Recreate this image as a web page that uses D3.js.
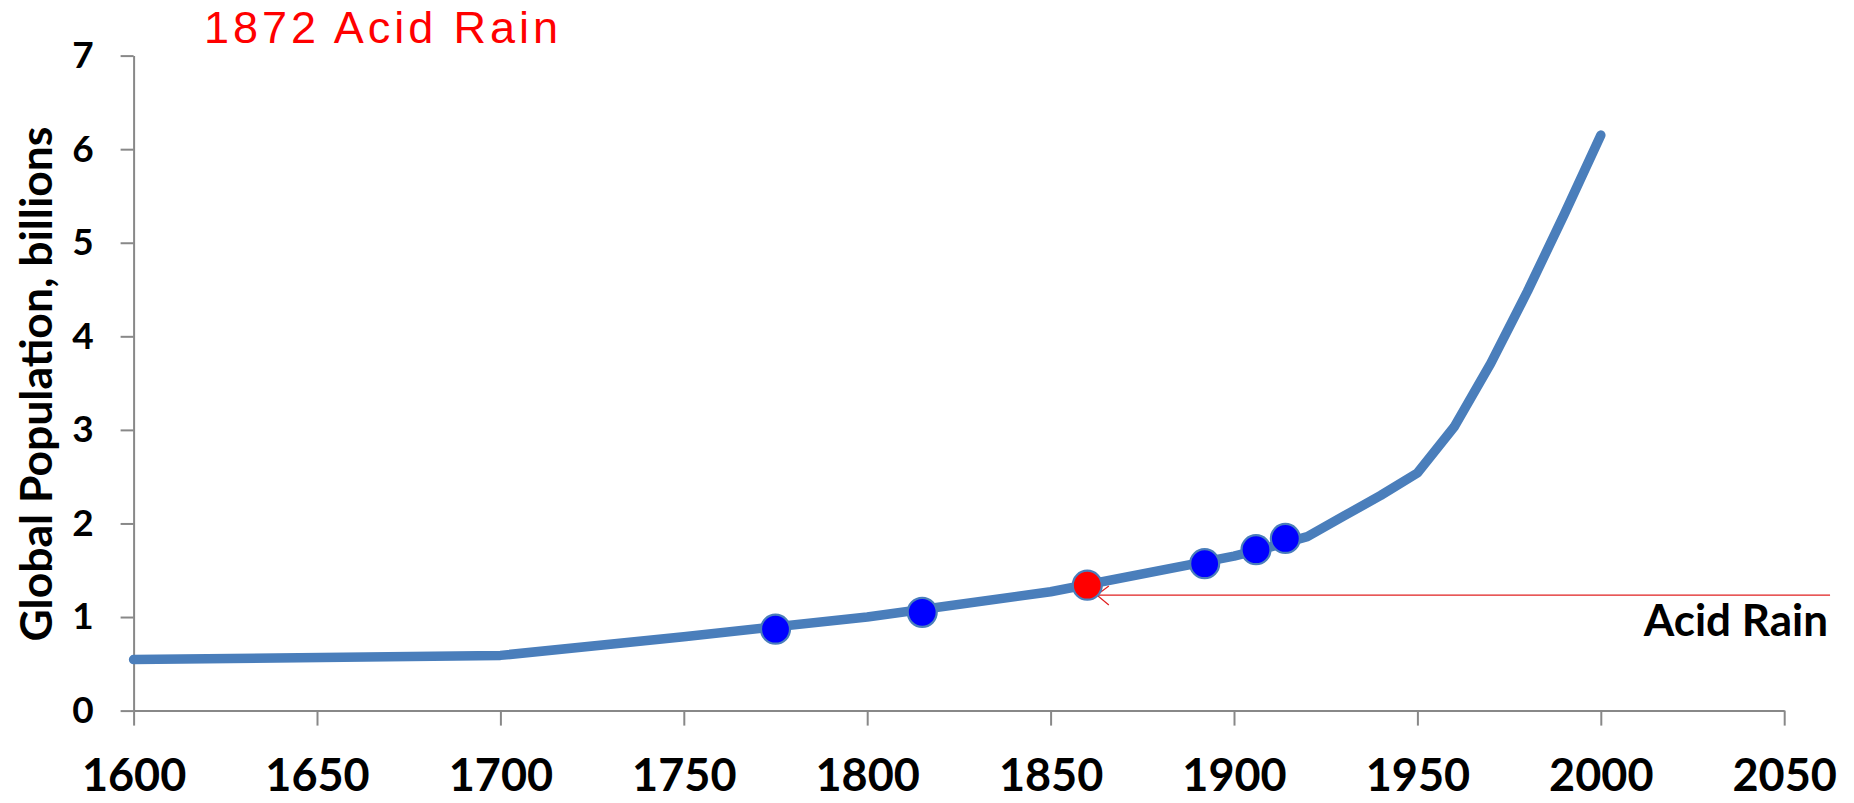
<!DOCTYPE html>
<html>
<head>
<meta charset="utf-8">
<script src="https://cdn.jsdelivr.net/npm/d3@7"></script>
<style>
  html, body { margin: 0; padding: 0; background: #ffffff; }
  svg { display: block; }
</style>
</head>
<body>
<svg id="chart" width="1854" height="803"></svg>
<script>
// World population estimates, billions
const years = [1600, 1700, 1750, 1800, 1850, 1900, 1910, 1920, 1930, 1940, 1950, 1960, 1970, 1980, 1990, 2000];
const population = [0.545, 0.59, 0.79, 1.0, 1.27, 1.65, 1.75, 1.86, 2.08, 2.3, 2.54, 3.03, 3.71, 4.48, 5.3, 6.15];

// Highlighted events along the curve
const eventYears = [1775, 1815, 1860, 1892, 1906, 1914];
const eventValues = [0.87, 1.05, 1.34, 1.57, 1.72, 1.84];
const eventColors = ["#0000ff", "#0000ff", "#ff0000", "#0000ff", "#0000ff", "#0000ff"];

// Callout: arrow runs from the label back to the highlighted point
const calloutText = "Acid Rain";
const calloutLevel = 1.235;
const calloutFromYear = 2062.5;
const calloutToYear = 1862.6;

const titleText = "1872 Acid Rain";
const yTitle = "Global Population, billions";
const xTicks = [1600, 1650, 1700, 1750, 1800, 1850, 1900, 1950, 2000, 2050];
const yTicks = [0, 1, 2, 3, 4, 5, 6, 7];

const svg = d3.select("#chart");
const axisGray = "#888888";
const lineBlue = "#4a7ebb";
const labelFont = "Lato, 'Open Sans', sans-serif";

const x = d3.scaleLinear().domain([1600, 2050]).range([133.6, 1784.2]);
const y = d3.scaleLinear().domain([0, 7]).range([710.6, 55.6]);

// Y axis
const gy = svg.append("g")
  .attr("transform", `translate(${x(1600)},0)`)
  .call(d3.axisLeft(y).tickValues(yTicks).tickFormat(d3.format("d"))
    .tickSize(13).tickSizeOuter(0).tickPadding(27));
gy.select(".domain").attr("stroke", axisGray).attr("stroke-width", 2);
gy.selectAll(".tick line").attr("stroke", axisGray).attr("stroke-width", 2);
gy.selectAll(".tick text")
  .attr("font-family", labelFont)
  .attr("font-weight", 700)
  .attr("font-size", 37)
  .attr("fill", "#000");

// X axis
const gx = svg.append("g")
  .attr("transform", `translate(0,${y(0)})`)
  .call(d3.axisBottom(x).tickValues(xTicks).tickFormat(d3.format("d"))
    .tickSize(15).tickSizeOuter(0).tickPadding(33));
gx.select(".domain").attr("stroke", axisGray).attr("stroke-width", 2);
gx.selectAll(".tick line").attr("stroke", axisGray).attr("stroke-width", 2);
gx.selectAll(".tick text")
  .attr("font-family", labelFont)
  .attr("font-weight", 700)
  .attr("font-size", 45)
  .attr("fill", "#000");

// Y axis title
svg.append("text")
  .attr("transform", `translate(52,${(y(0) + y(7)) / 2 + 1}) rotate(-90)`)
  .attr("text-anchor", "middle")
  .attr("font-family", labelFont)
  .attr("font-weight", 700)
  .attr("font-size", 44.5)
  .attr("fill", "#000")
  .text(yTitle);

// Population curve
const series = years.map((yr, i) => ({ year: yr, value: population[i] }));
svg.append("path")
  .datum(series)
  .attr("fill", "none")
  .attr("stroke", lineBlue)
  .attr("stroke-width", 9.5)
  .attr("stroke-linejoin", "round")
  .attr("stroke-linecap", "round")
  .attr("d", d3.line().x(d => x(d.year)).y(d => y(d.value)));

// Callout line with open arrowhead
const cy = y(calloutLevel);
const x0 = x(calloutToYear), x1 = x(calloutFromYear);
svg.append("line")
  .attr("x1", x0).attr("y1", cy).attr("x2", x1).attr("y2", cy)
  .attr("stroke", "#e02020").attr("stroke-width", 1.2);
svg.append("path")
  .attr("d", `M${x0 + 12},${cy - 9} L${x0},${cy} L${x0 + 12},${cy + 10}`)
  .attr("fill", "none").attr("stroke", "#e02020").attr("stroke-width", 1.2);

// Event markers
const events = eventYears.map((yr, i) => ({ year: yr, value: eventValues[i], color: eventColors[i] }));
svg.append("g").selectAll("circle")
  .data(events)
  .join("circle")
  .attr("cx", d => x(d.year))
  .attr("cy", d => y(d.value))
  .attr("r", 14.5)
  .attr("fill", d => d.color)
  .attr("stroke", lineBlue)
  .attr("stroke-width", 2.2);

// Callout label
svg.append("text")
  .attr("x", x(calloutFromYear) - 2)
  .attr("y", cy + 41)
  .attr("text-anchor", "end")
  .attr("font-family", labelFont)
  .attr("font-weight", 700)
  .attr("font-size", 44)
  .attr("fill", "#000")
  .text(calloutText);

// Title
svg.append("text")
  .attr("x", 204)
  .attr("y", 43)
  .attr("font-family", "'Liberation Sans', Arial, sans-serif")
  .attr("font-weight", 400)
  .attr("font-size", 45)
  .attr("fill", "#ff0000")
  .attr("textLength", 354)
  .attr("lengthAdjust", "spacing")
  .text(titleText);
</script>
</body>
</html>
